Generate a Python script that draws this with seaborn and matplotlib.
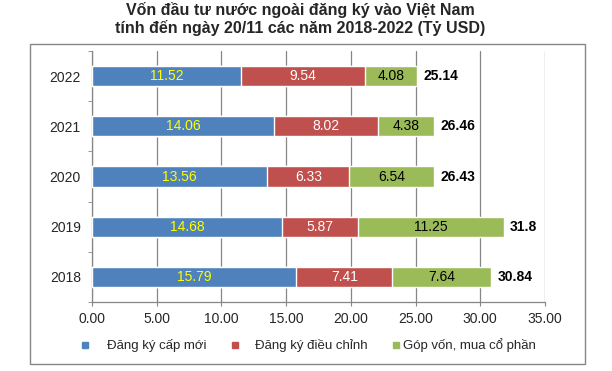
import numpy as np
import pandas as pd
import seaborn as sns
import matplotlib.pyplot as plt
from matplotlib.patches import Rectangle

years = ["2022", "2021", "2020", "2019", "2018"]
cap_moi = [11.52, 14.06, 13.56, 14.68, 15.79]
dieu_chinh = [9.54, 8.02, 6.33, 5.87, 7.41]
gop_von = [4.08, 4.38, 6.54, 11.25, 7.64]
tong = [25.14, 26.46, 26.43, 31.8, 30.84]

series_names = ["Đăng ký cấp mới", "Đăng ký điều chỉnh", "Góp vốn, mua cổ phần"]
colors = ["#4F81BD", "#C0504D", "#9BBB59"]
text_colors = ["#FFFF00", "white", "black"]

df = pd.DataFrame({"year": years, "s1": cap_moi, "s2": dieu_chinh, "s3": gop_von})
df["c1"] = df["s1"]
df["c2"] = df["s1"] + df["s2"]
df["c3"] = df["c2"] + df["s3"]

sns.set_style("white")
plt.rcParams["font.family"] = ["Liberation Sans", "DejaVu Sans"]

fig = plt.figure(figsize=(6.12, 3.71), dpi=100)
ax = fig.add_axes([0.1503, 0.186, 0.7402, 0.6765])

# stacked bars: draw cumulative totals from back to front
for col, c in zip(["c3", "c2", "c1"], colors[::-1]):
    sns.barplot(data=df, x=col, y="year", order=years, color=c, width=0.4,
                saturation=1, ax=ax, zorder=3)

# segment labels + totals
for i in range(len(years)):
    starts = [0, df["c1"][i], df["c2"][i]]
    vals = [df["s1"][i], df["s2"][i], df["s3"][i]]
    for s, v, tc in zip(starts, vals, text_colors):
        ax.text(s + v / 2, i, f"{v:.2f}", color=tc, ha="center", va="center",
                fontsize=10, zorder=5)
    ax.text(df["c3"][i] + 0.5, i, f"{tong[i]:g}", color="black", ha="left",
            va="center", fontsize=10, fontweight="bold", zorder=5)

ax.set_xlim(0, 35)
ax.set_ylim(4.5, -0.5)
ax.set_xticks(np.arange(0, 36, 5))
ax.set_xticklabels([f"{t:.2f}" for t in np.arange(0, 36, 5)], fontsize=10)
ax.set_yticks(range(len(years)))
ax.set_yticklabels(years, fontsize=10)
ax.set_yticks(np.arange(-0.5, 5, 1), minor=True)
ax.tick_params(axis="y", which="major", length=0, pad=8)
ax.tick_params(axis="y", which="minor", left=True, length=3, color="#868686")
ax.tick_params(axis="x", bottom=True, length=3, color="#868686", pad=4)
ax.set_xlabel("")
ax.set_ylabel("")

ax.grid(axis="x", color="#868686", linewidth=0.9, zorder=0)
ax.set_axisbelow(True)
for side in ["top", "right"]:
    ax.spines[side].set_visible(False)
for side in ["left", "bottom"]:
    ax.spines[side].set_color("#868686")
    ax.spines[side].set_linewidth(0.9)

fig.suptitle("Vốn đầu tư nước ngoài đăng ký vào Việt Nam\ntính đến ngày 20/11 các năm 2018-2022 (Tỷ USD)",
             x=0.49, y=0.995, fontsize=11.5, fontweight="bold", linespacing=1.2)

# legend, laid out like the Excel one
leg_y = 1 - 345 / 371
for c, name, sx, tx in zip(colors, series_names, [82, 232, 393], [107, 255, 403]):
    fig.add_artist(Rectangle((sx / 612, leg_y - 3 / 371), 6 / 612, 6 / 371,
                             transform=fig.transFigure, color=c))
    fig.text(tx / 612, leg_y, name, ha="left", va="center", fontsize=9.5)

fig.add_artist(Rectangle((30 / 612, 1 - 364 / 371), 555 / 612, 320 / 371,
                         transform=fig.transFigure, fill=False,
                         edgecolor="#868686", linewidth=1))

fig.savefig("out.png", dpi=100)
